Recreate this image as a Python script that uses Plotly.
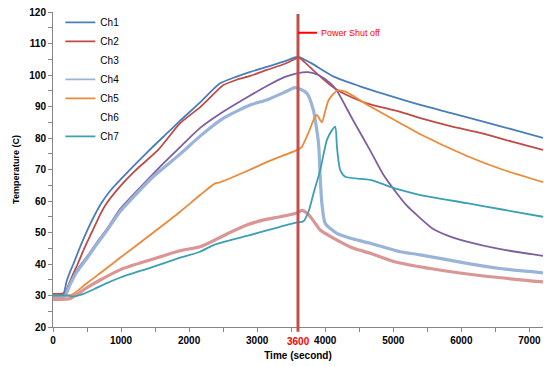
import plotly.graph_objects as go

# ---- data (time in seconds, temperature in C) ----
t1 = [0, 150, 200, 250, 300, 400, 500, 600, 716, 850, 1000, 1200, 1471, 1700, 1868, 2162, 2450, 2700, 2900, 3142, 3400, 3600,
      3700, 3800, 4123, 4500, 4858, 5397, 5838, 6309, 6800, 7200]
ch1 = [30.5, 30.5, 34.5, 37.5, 40, 45.5, 50.5, 55, 59.5, 63.5, 67, 71.5, 77.3, 82, 85.5, 91.3, 97.3, 99.5, 101, 102.6, 104.3, 105.8,
       104.8, 103.7, 99.5, 96.5, 94, 90.5, 88, 85.3, 82.4, 80]

t2 = [0, 180, 220, 300, 363, 450, 569, 700, 779, 980, 1200, 1545, 1868, 2162, 2400, 2505, 2700, 2897, 3142, 3400, 3583, 3610,
      3700, 3850, 4074, 4172, 4300, 4613, 5103, 5397, 5838, 6309, 6800, 7200]
ch2 = [30.5, 30.8, 33, 37, 40, 44.5, 50, 56, 59, 64.5, 69.5, 76.2, 84.7, 89.8, 94.8, 96.8, 98.5, 99.7, 101.6, 103.5, 105.3, 105.6,
       104, 101, 96.8, 95.3, 93.8, 91, 88.3, 86.3, 83.8, 81.5, 78.5, 76.2]

t3 = [0, 170, 250, 350, 505, 650, 789, 980, 1105, 1378, 1600, 1863, 2162, 2505, 2897, 3142, 3400, 3600, 3750, 3900, 4074, 4172,
      4400, 4662, 4850, 5054, 5200, 5348, 5593, 5800, 6083, 6574, 7200]
ch3 = [30, 30.5, 34, 38, 42.5, 47, 51, 57.3, 60.3, 66.5, 71.5, 77, 83.2, 88.4, 93.5, 96.5, 99.3, 100.6, 100.9, 100, 97.4, 95,
       86, 76, 68.5, 62.4, 58.5, 55.5, 51, 49, 47.1, 44.7, 42.6]

t4 = [0, 170, 250, 350, 505, 650, 789, 980, 1105, 1471, 1863, 2162, 2505, 2897, 3142, 3400, 3550, 3600, 3730, 3824, 3902, 3926,
      3951, 4000, 4172, 4400, 4662, 5103, 5397, 6083, 6600, 7200]
ch4 = [29.5, 29.8, 33.5, 37.5, 42, 46.5, 50.5, 56.5, 59.5, 67.7, 74.8, 80.6, 86.3, 90.5, 92.1, 94.5, 96, 95.8, 94.2, 89, 78.3, 67.7,
       59.3, 52.9, 49.7, 48, 46.6, 43.9, 42.9, 40.2, 38.5, 37.2]

t5 = [0, 280, 490, 700, 1000, 1475, 1868, 2162, 2382, 2450, 2848, 3191, 3600, 3657, 3750, 3828, 3877, 3951, 4000, 4049, 4172,
      4294, 4662, 5103, 5397, 6083, 6600, 7200]
ch5 = [30, 30.3, 33.8, 37.2, 42.2, 50, 56.6, 61.9, 65.6, 65.9, 69.5, 72.8, 76.3, 77.2, 81.5, 85.7, 87.3, 85, 88.5, 92, 95,
       94.7, 90, 84.7, 81.2, 74.3, 70, 66]

t6 = [0, 250, 350, 500, 700, 1000, 1426, 1868, 2162, 2358, 2600, 2848, 3100, 3338, 3583, 3657, 3750, 3850, 3926, 4172, 4417,
      4662, 5005, 5588, 6328, 7200]
ch6 = [28.8, 29, 30.3, 32.5, 35, 38.3, 41.3, 44.2, 45.5, 47.4, 50, 52.4, 54, 55, 56.2, 57, 55.8, 53, 50.8, 47.6, 45,
       43.4, 40.8, 38.4, 36.2, 34.3]

t7 = [0, 200, 300, 450, 600, 800, 1000, 1426, 1868, 2162, 2358, 2848, 3338, 3583, 3681, 3760, 3828, 3926, 4025, 4100, 4147, 4172,
      4200, 4221, 4294, 4662, 4956, 5103, 5397, 6083, 6600, 7200]
ch7 = [30, 30, 29.7, 30.5, 32, 34, 35.8, 38.8, 42, 43.9, 46, 48.9, 51.8, 53.2, 53.6, 57, 62.4, 69.8, 79.4, 82.5, 83.6, 77.2,
       72, 69.8, 67.7, 66.7, 64.5, 63.5, 61.9, 59.3, 57.3, 55]

series = [
    ("Ch1", t1, ch1, "#4A7EBB", 1.8, True),
    ("Ch2", t2, ch2, "#BE4B48", 1.8, True),
    ("Ch3", t3, ch3, "#7D5FA0", 1.8, False),
    ("Ch4", t4, ch4, "#9AB3D9", 3.2, True),
    ("Ch5", t5, ch5, "#EC8A3A", 1.8, True),
    ("Ch6", t6, ch6, "#D99694", 3.2, False),
    ("Ch7", t7, ch7, "#3C9FB4", 1.8, True),
]

shutoff_t = 3600

fig = go.Figure()
for name, t, v, col, w, leg in series:
    fig.add_trace(go.Scatter(x=t, y=v, mode="lines", name=name,
                             line=dict(color=col, width=w, shape="spline", smoothing=0.6),
                             showlegend=False))

# legend entries (Ch3 and Ch6 show no line sample in the reference)
for name, t, v, col, w, leg in series:
    fig.add_trace(go.Scatter(x=[None], y=[None], mode="lines", name=name,
                             line=dict(color=col if leg else "rgba(0,0,0,0)", width=1.6),
                             showlegend=True))

fig.add_shape(type="line", xref="x", yref="paper", x0=shutoff_t, x1=shutoff_t, y0=-0.015, y1=0.994,
              line=dict(color="#C0504D", width=3))

fig.add_annotation(x=shutoff_t, y=113.4, xref="x", yref="y", text="Power Shut off",
                   showarrow=True, arrowhead=0, arrowwidth=2, arrowcolor="#FF0000",
                   ax=52, ay=0, borderpad=3,
                   font=dict(family="Liberation Sans", size=9, color="#FF0000"))

fig.add_annotation(x=shutoff_t, y=0, xref="x", yref="paper", text=str(shutoff_t),
                   showarrow=False, yanchor="middle", yshift=-14,
                   font=dict(family="Liberation Sans", size=10, color="#FF0000", weight="bold"))

axis_font = dict(family="Liberation Sans", size=10, color="#000000", weight="bold")

fig.update_layout(
    width=544, height=367,
    margin=dict(l=53, r=1, t=12, b=40),
    paper_bgcolor="white", plot_bgcolor="white",
    showlegend=True,
    legend=dict(x=0.015, y=1.013, xanchor="left", yanchor="top", bgcolor="rgba(0,0,0,0)",
                font=dict(family="Liberation Sans", size=10, color="#000000"),
                tracegroupgap=0),
    xaxis=dict(range=[0, 7200], tick0=0, dtick=1000, showgrid=False, zeroline=False,
               showline=True, linecolor="#868686", linewidth=1,
               ticks="outside", ticklen=4, tickcolor="#868686",
               minor=dict(dtick=500, ticks="outside", ticklen=4, tickcolor="#868686", showgrid=False),
               tickfont=axis_font,
               title=dict(text="Time (second)", font=axis_font, standoff=6)),
    yaxis=dict(range=[20, 120], tick0=20, dtick=10, showgrid=False, zeroline=False,
               showline=True, linecolor="#868686", linewidth=1,
               ticks="outside", ticklen=4, tickcolor="#868686",
               minor=dict(dtick=5, ticks="outside", ticklen=4, tickcolor="#868686", showgrid=False),
               tickfont=axis_font,
               title=dict(text="Temperature (C)", font=dict(family="Liberation Sans", size=9, color="#000000", weight="bold"), standoff=8)),
)

fig.write_html("out.html")
